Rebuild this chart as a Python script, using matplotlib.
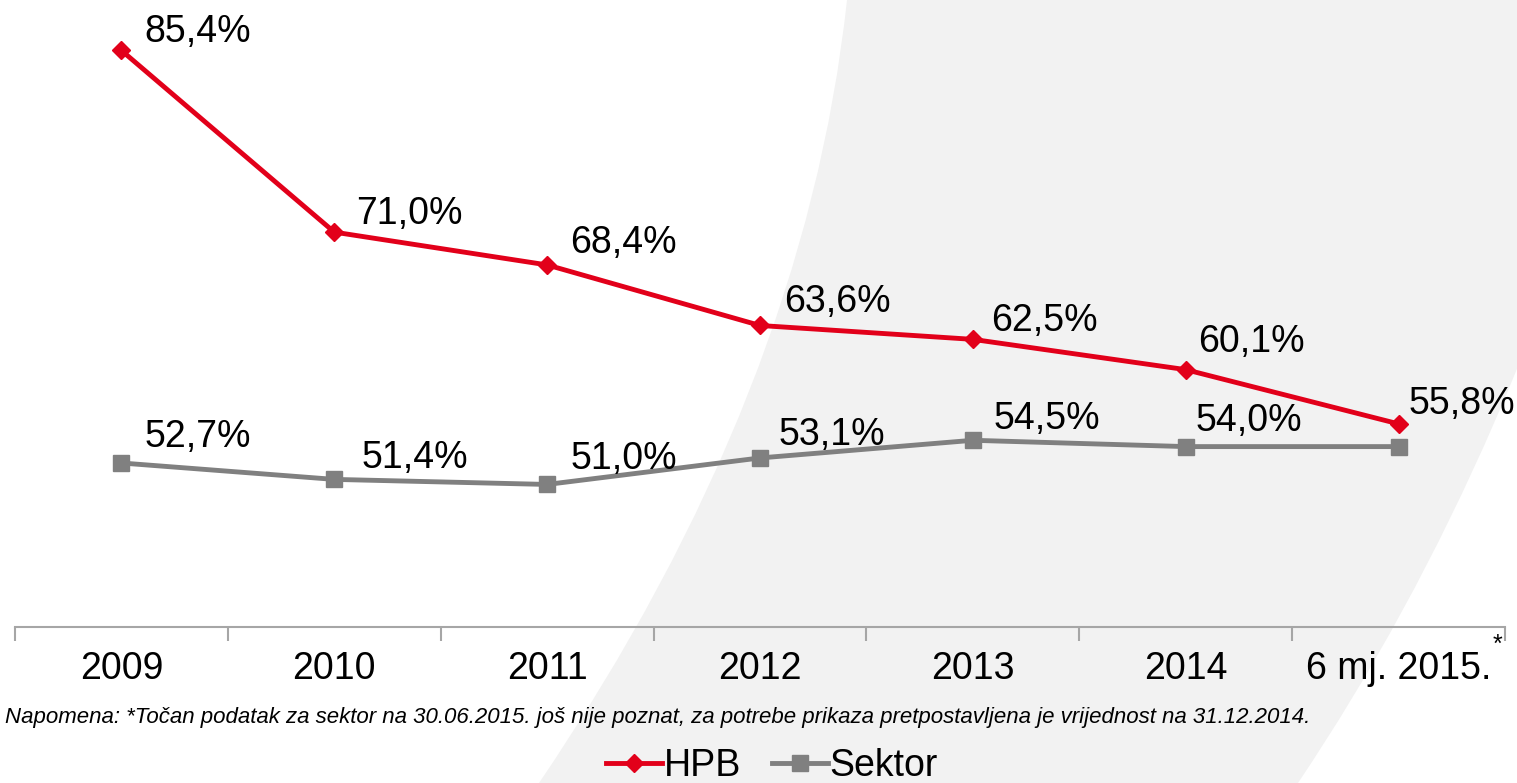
import numpy as np
import matplotlib
matplotlib.use('Agg')
import matplotlib.pyplot as plt
from matplotlib.path import Path
from matplotlib.patches import PathPatch

plt.rcParams['font.family'] = ['Liberation Sans', 'DejaVu Sans']

# data
categories = ['2009', '2010', '2011', '2012', '2013', '2014', '6 mj. 2015.']
hpb = [85.4, 71.0, 68.4, 63.6, 62.5, 60.1, 55.8]
sektor = [52.7, 51.4, 51.0, 53.1, 54.5, 54.0, 54.0]
# the last sector value is only an assumption, it has no label
sektor_labeled = [True, True, True, True, True, True, False]
note = ('Napomena: *Točan podatak za sektor na 30.06.2015. još nije poznat, '
        'za potrebe prikaza pretpostavljena je vrijednost na 31.12.2014.')

# label offsets from the point, in pixels (right, up to the text middle)
hpb_off = [(23, 22), (22, 22), (23, 25), (24, 27), (18, 22), (12, 31), (10, 23)]
sektor_off = [(23, 29), (27, 25), (23, 29), (19, 26), (21, 25), (10, 29), (0, 0)]

W, H = 1517, 783
RED = '#e2001a'
GRAY = '#808080'
FS = 27

fig = plt.figure(figsize=(W / 100, H / 100), dpi=100)

# decorative swoosh in the background (pixel coords, y up)
def fp(x, y):
    return (x / W, y / H)

verts = [fp(539, 0), fp(805, 391.5), fp(847, 783),
         fp(1700, 783),
         fp(1640, 783), fp(1520, 330), fp(1298, 0),
         fp(539, 0)]
codes = [Path.MOVETO, Path.CURVE3, Path.CURVE3,
         Path.LINETO,
         Path.LINETO, Path.CURVE3, Path.CURVE3,
         Path.CLOSEPOLY]
fig.patches.append(PathPatch(Path(verts, codes), transform=fig.transFigure,
                             facecolor='#f2f2f2', edgecolor='none', zorder=-5))

ax = fig.add_axes([15 / W, (H - 627) / H, 1490 / W, 627 / H])
ax.patch.set_alpha(0)
x = np.arange(len(categories))

ax.plot(x, hpb, color=RED, lw=3.5, marker='D', ms=9, label='HPB', zorder=3)
ax.plot(x, sektor, color=GRAY, lw=3.5, marker='s', ms=11, label='Sektor', zorder=3)

def fmt(v):
    return '{:.1f}%'.format(v).replace('.', ',')

# px -> points, text placed by baseline (digit cap height ~ 0.716 em)
cap = 0.716 * FS / 0.72
for xi, v, (dx, dy) in zip(x, hpb, hpb_off):
    ax.annotate(fmt(v), (xi, v), xytext=(dx * 0.72, (dy - cap / 2) * 0.72),
                textcoords='offset points', ha='left', va='baseline',
                fontsize=FS, annotation_clip=False)
for xi, v, (dx, dy), show in zip(x, sektor, sektor_off, sektor_labeled):
    if not show:
        continue
    ax.annotate(fmt(v), (xi, v), xytext=(dx * 0.72, (dy - cap / 2) * 0.72),
                textcoords='offset points', ha='left', va='baseline',
                fontsize=FS, annotation_clip=False)

ax.set_xlim(-0.5, 6.5)
ax.set_ylim(39.7, 89.4)
for s in ['top', 'right', 'left']:
    ax.spines[s].set_visible(False)
ax.spines['bottom'].set_color('#a6a6a6')
ax.spines['bottom'].set_linewidth(1.5)
ax.set_yticks([])
ax.set_xticks(x)
ax.set_xticklabels(categories, fontsize=FS)
ax.tick_params(axis='x', which='major', length=0, pad=17)
ax.set_xticks(np.arange(-0.5, 7, 1), minor=True)
ax.tick_params(axis='x', which='minor', length=10, width=1.5, color='#a6a6a6',
               direction='out')

# asterisk next to the last tick label
fig.text(1497 / W, (H - 645) / H, '*', fontsize=18, ha='center', va='center')

fig.text(5 / W, (H - 717) / H, note, fontsize=16, style='italic',
         ha='left', va='center')

fig.legend(loc='center', bbox_to_anchor=(772 / W, (H - 766) / H), ncol=2,
           frameon=False, fontsize=FS, handlelength=1.5, handletextpad=0.05,
           columnspacing=0.8, borderaxespad=0)

fig.savefig('out.png', dpi=100)
